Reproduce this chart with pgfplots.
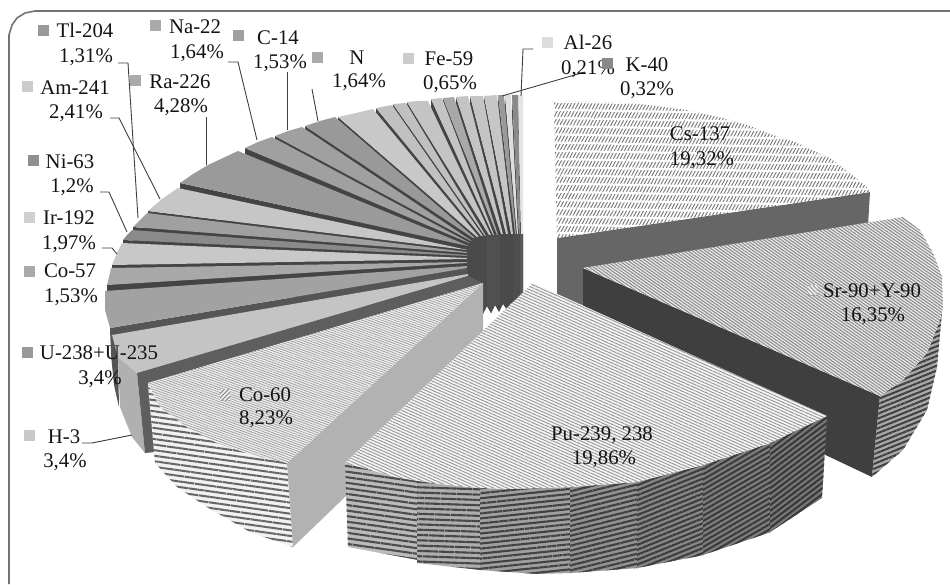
\documentclass[border=0pt]{standalone}
\usepackage{fontspec}
\setmainfont{Liberation Serif}
\usepackage{pgfplots}
\pgfplotsset{compat=1.18}
\usetikzlibrary{patterns.meta}
\newcommand{\poly}[2]{\addplot[#1] coordinates {#2};}
\newcommand{\lab}[3]{\node[anchor=base,inner sep=0pt,text=black!92,yshift=-7pt] at (axis cs:#1,#2) {\fontsize{20.8}{24}\selectfont #3};}
\newcommand{\chip}[3]{\definecolor{c#3}{HTML}{#3}\addplot[color=c#3,only marks,mark=square*,mark size=5pt,mark options={fill=c#3,draw=c#3}] coordinates {(#1,#2)};}
\newcommand{\lead}[1]{\addplot[draw=black!75,line width=0.9pt] coordinates {#1};}
\definecolor{wl}{HTML}{444444}
\tikzset{
 wallf/.style={fill=wl,draw=none},
 g/.code={\definecolor{c#1}{HTML}{#1}\pgfkeysalso{fill=c#1,draw=none}},
 hatch/.code n args={5}{\definecolor{c#1}{HTML}{#1}\pgfkeysalso{fill=c#1,draw=none,postaction={pattern={Lines[angle=#2,distance=#3pt,line width=#4pt]},pattern color=#5}}},
}
\begin{document}
\begin{tikzpicture}
\begin{axis}[scale only axis,width=950pt,height=584pt,xmin=0,xmax=950,ymin=0,ymax=584,y dir=reverse,hide axis,clip=true]
\poly{fill=white,draw=none}{(0,0)(950,0)(950,584)(0,584)}
% frame
\addplot[draw=black!55,line width=1.6pt] coordinates {(950,11)(35,11)(25,13)(17,18)(12,25)(9,35)(9,584)};
% fan wedges, far to near: wall then top face
\poly{wallf}{(518,95)(521,234)(521,290)(518,120)}
\poly{g=E4E4E4}{(518,95)(523,95)(523,234)(521,234)}
\poly{wallf}{(512,95)(519,234)(519,290)(512,120)}
\poly{g=8A8A8A}{(512,95)(518,95)(520,234)(519,234)}
\poly{wallf}{(505,95)(517,234)(517,290)(505,120)}
\poly{g=DEDEDE}{(505,95)(511,95)(518,234)(517,234)}
\poly{wallf}{(498,95)(515,234)(515,290)(498,120)}
\poly{g=999999}{(498,95)(504,95)(516,234)(515,234)}
\poly{wallf}{(484,96)(511,234)(511,290)(484,120)}
\poly{g=C6C6C6}{(484,96)(497,95)(513,234)(511,234)}
\poly{wallf}{(470,96)(506,234)(506,290)(470,120)}
\poly{g=C4C4C4}{(470,96)(483,96)(508,234)(506,234)}
\poly{wallf}{(456,97)(501,234)(501,290)(456,122)}
\poly{g=C4C4C4}{(456,97)(468,96)(503,234)(501,234)}
\poly{wallf}{(443,98)(497,235)(497,290)(443,122)}
\poly{g=A8A8A8}{(443,98)(454,97)(498,235)(497,235)}
\poly{wallf}{(431,99)(493,235)(493,290)(431,125)}
\poly{g=C4C4C4}{(431,99)(442,98)(494,235)(493,235)}
\poly{wallf}{(407,102)(489,235)(489,290)(407,128)}
\poly{g=C4C4C4}{(407,102)(418,101)(428,101)(491,235)(489,235)}
\poly{wallf}{(393,104)(485,236)(485,290)(393,130)}
\poly{g=C0C0C0}{(393,104)(406,103)(486,236)(485,236)}
\poly{wallf}{(376,108)(481,236)(481,290)(376,133)}
\poly{g=C0C0C0}{(376,108)(392,105)(483,236)(481,236)}
\poly{wallf}{(338,117)(477,237)(477,290)(338,142)}
\poly{g=C8C8C8}{(338,117)(356,113)(373,109)(479,237)(477,237)}
\poly{wallf}{(305,126)(473,238)(473,290)(305,151)}
\poly{g=999999}{(305,126)(320,121)(335,117)(475,238)(473,238)}
\poly{wallf}{(275,136)(471,241)(471,290)(275,161)}
\poly{g=A0A0A0}{(275,136)(288,131)(302,127)(472,241)(471,241)}
\poly{wallf}{(245,148)(469,243)(469,290)(245,173)}
\poly{g=A0A0A0}{(245,148)(258,142)(272,137)(470,243)(469,243)}
\poly{wallf}{(180,183)(468,246)(468,290)(180,208)}
\poly{g=9A9A9A}{(180,183)(193,174)(208,165)(223,158)(238,151)(469,246)(468,246)}
\poly{wallf}{(148,211)(467,250)(467,290)(148,236)}
\poly{g=C6C6C6}{(148,211)(162,199)(178,188)(468,250)(467,250)}
\poly{wallf}{(133,227)(467,253)(467,290)(133,252)}
\poly{g=A0A0A0}{(133,227)(140,220)(147,213)(467,252)(467,253)}
\poly{wallf}{(123,240)(467,256)(467,290)(123,265)}
\poly{g=8A8A8A}{(123,240)(127,235)(132,230)(467,255)(467,256)}
\poly{wallf}{(112,265)(467,259)(467,290)(112,285)}
\poly{g=C8C8C8}{(112,265)(117,253)(122,243)(467,258)(467,259)}
\poly{wallf}{(107,285)(467,263)(467,290)(107,305)}
\poly{g=A8A8A8}{(107,285)(109,277)(111,268)(467,262)(467,263)}
% U-238
\poly{g=555555}{(110,328)(467,268)(467,290)(116,345)(118,357)(119,407)(114,385)(111,355)}
\poly{g=A2A2A2}{(105,291)(105,310)(110,328)(467,268)(467,266)}
% inner walls of the fan
\poly{g=4A4A4A}{(467,250)(468,246)(473,238)(481,236)(497,235)(523,234)(523,293)(518,304)(514,309)(511,303)(507,310)(503,304)(499,312)(495,305)(491,313)(487,306)(483,314)(483,283)(467,278)}
\poly{g=505050}{(487,236)(500,235)(500,304)(495,305)(491,313)(487,306)}
\poly{g=4E4E4E}{(513,234)(520,234)(520,300)(518,304)(514,309)(513,307)}
\poly{g=5A5A5A}{(520,234)(523,234)(523,293)(520,298)}
% H-3
\poly{g=B0B0B0}{(118,357)(137,373)(145,453)(132,437)(120,407)}
\poly{g=C4C4C4}{(112,335)(118,357)(137,373)(468,276)(468,274)}
% Cs-137
\poly{g=666666}{(557,238)(870,192)(868,226)(583,268)(583,305)(557,300)}
\addplot[fill=white,draw=none,postaction={pattern={Lines[angle=62,distance=3pt,line width=0.9pt]},pattern color=black!55},postaction={pattern={Lines[angle=-1,distance=8.2pt,line width=2.2pt]},pattern color=white}] coordinates {(554,101)(600,102)(640,104)(687,110)(723,118)(750,126)(773,135)(795,142)(812,150)(830,158)(843,168)(855,177)(867,187)(870,192)(557,238)};
% Co-60 walls
\poly{g=5E5E5E}{(137,373)(468,276)(483,283)(148,383)(155,452)(145,453)}
\poly{hatch={F2F2F2}{-8}{5.5}{2}{black!60}}{(148,385)(160,407)(187,427)(217,443)(253,455)(287,463)(293,547)(250,532)(207,507)(177,487)(155,463)}
\poly{g=B2B2B2}{(483,283)(287,463)(293,547)(345,497)(483,332)}
\poly{hatch={EEEEEE}{-20}{2.2}{0.7}{black!40}}{(483,283)(148,383)(160,407)(187,427)(217,443)(253,455)(287,463)}
% Sr-90
\poly{g=3F3F3F}{(583,268)(880,396)(872,477)(815,450)(583,335)}
\poly{hatch={A8A8A8}{22}{4.5}{2}{black!75}}{(943,300)(940,320)(927,353)(903,380)(880,396)(872,477)(903,450)(927,410)(937,367)(941,323)}
\poly{hatch={EAEAEA}{-35}{2.5}{1}{black!47}}{(583,268)(903,217)(920,230)(933,253)(942,277)(943,307)(940,320)(927,353)(903,380)(880,396)}
% Pu-239 outer wall, in steps along the arc
\poly{hatch={BBBBBB}{-8}{5.5}{2.1}{black!70}}{(345,463)(400,478)(418,481)(418,560)(348,547)}
\poly{hatch={AEAEAE}{-2}{5.3}{2.1}{black!72}}{(417,481)(440,484)(481,488)(481,570)(417,563)}
\poly{hatch={A0A0A0}{6}{5}{2.1}{black!74}}{(480,488)(510,489)(571,487)(571,573)(537,574)(480,570)}
\poly{hatch={929292}{14}{4.8}{2.1}{black!75}}{(570,487)(638,482)(638,568)(570,573)}
\poly{hatch={868686}{22}{4.6}{2.1}{black!76}}{(637,482)(704,465)(704,555)(637,568)}
\poly{hatch={7E7E7E}{30}{4.5}{2.1}{black!77}}{(703,465)(771,443)(771,532)(703,555)}
\poly{hatch={787878}{37}{4.5}{2.1}{black!78}}{(770,443)(827,416)(822,498)(770,532)}
\poly{hatch={F6F6F6}{-24}{2.8}{0.9}{black!42}}{(533,283)(827,416)(770,443)(703,465)(637,482)(570,487)(510,489)(480,488)(440,484)(400,478)(345,463)}
% hatched keys inside the big slices
\poly{hatch={EEEEEE}{45}{3}{1}{black!45}}{(220,389)(230,389)(230,400)(220,400)}
\poly{hatch={EEEEEE}{-45}{3}{1}{black!40}}{(808,285)(818,285)(818,295)(808,295)}
% leaders
\lead{(118,63)(128,63)(138,218)}
\lead{(228,62)(238,62)(257,140)}
\lead{(287,72)(287,130)}
\lead{(312,89)(318,121)}
\lead{(206,117)(206,165)}
\lead{(110,118)(119,118)(160,199)}
\lead{(100,192)(109,192)(127,232)}
\lead{(102,248)(112,248)(117,254)}
\lead{(82,443)(92,443)(132,435)}
\lead{(533,49)(523,49)(521,96)}
\lead{(585,72)(502,96)}
% keys
\chip{43}{30}{999999}
\chip{155}{25}{AAAAAA}
\chip{238}{35}{A0A0A0}
\chip{317}{57}{AAAAAA}
\chip{408}{58}{CCCCCC}
\chip{135}{80}{AAAAAA}
\chip{27}{86}{CCCCCC}
\chip{33}{160}{8F8F8F}
\chip{29}{217}{D0D0D0}
\chip{29}{271}{AAAAAA}
\chip{27}{352}{999999}
\chip{29}{435}{C8C8C8}
\chip{547}{42}{DDDDDD}
\chip{607}{63}{888888}
% labels
\lab{85}{30}{Tl-204}\lab{86}{55}{1,31\%}
\lab{195}{26}{Na-22}\lab{197}{51}{1,64\%}
\lab{278}{37}{C-14}\lab{280}{61}{1,53\%}
\lab{357}{57}{N}\lab{359}{80}{1,64\%}
\lab{449}{58}{Fe-59}\lab{450}{82}{0,65\%}
\lab{180}{81}{Ra-226}\lab{181}{105}{4,28\%}
\lab{75}{87}{Am-241}\lab{76}{111}{2,41\%}
\lab{70}{161}{Ni-63}\lab{72}{185}{1,2\%}
\lab{69}{217}{Ir-192}\lab{69}{242}{1,97\%}
\lab{70}{270}{Co-57}\lab{71}{295}{1,53\%}
\lab{99}{352}{U-238+U-235}\lab{100}{377}{3,4\%}
\lab{64}{436}{H-3}\lab{65}{460}{3,4\%}
\lab{588}{42}{Al-26}\lab{588}{67}{0,21\%}
\lab{647}{64}{K-40}\lab{647}{88}{0,32\%}
\lab{700}{133}{Cs-137}\lab{702}{158}{19,32\%}
\lab{872}{290}{Sr-90+Y-90}\lab{873}{314}{16,35\%}
\lab{265}{394}{Co-60}\lab{266}{417}{8,23\%}
\lab{602}{433}{Pu-239, 238}\lab{604}{457}{19,86\%}
\end{axis}
\end{tikzpicture}
\end{document}
